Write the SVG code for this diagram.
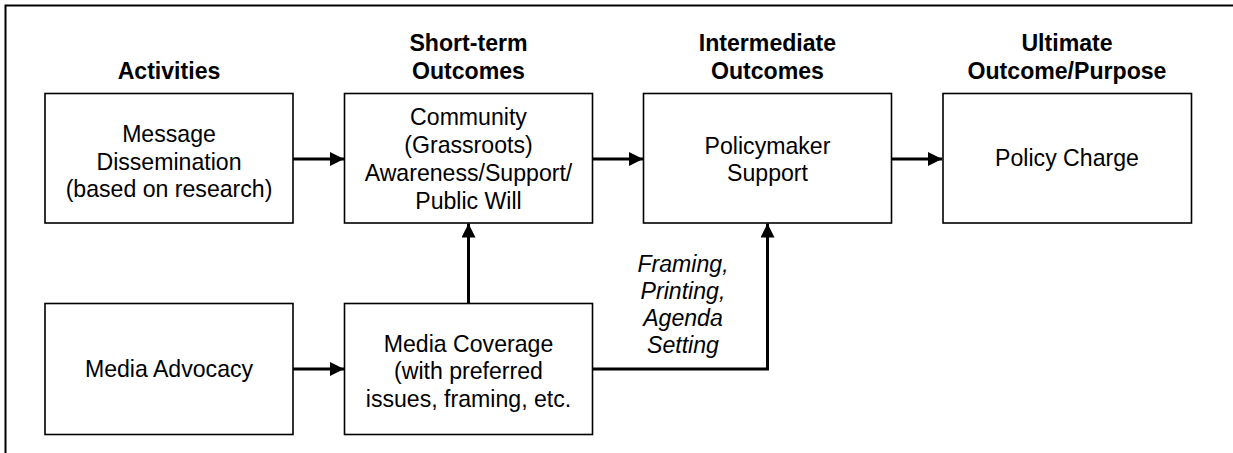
<svg xmlns="http://www.w3.org/2000/svg" width="1233" height="453" viewBox="0 0 1233 453">
  <style>
    text { font-family: "Liberation Sans", Arial, sans-serif; font-size: 24px; fill: #000; text-anchor: middle;
           transform-box: fill-box; transform-origin: center; transform: scaleX(0.963); }
    .hdr { font-weight: bold; }
    .lbl { font-style: italic; }
    .box { fill: #fff; stroke: #000; stroke-width: 1.6; }
    .edge { fill: none; stroke: #000; stroke-width: 3; }
  </style>
  <defs>
    <marker id="arrow" markerUnits="userSpaceOnUse" markerWidth="15" markerHeight="14" refX="14" refY="7" orient="auto">
      <path d="M0,0 L14,7 L0,14 Z" fill="#000"/>
    </marker>
  </defs>

  <rect width="1233" height="453" fill="#fff"/>
  <!-- page frame -->
  <path d="M5.5,453 V5.5 H1233" fill="none" stroke="#000" stroke-width="2"/>

  <!-- column headings -->
  <g id="headings">
    <text class="hdr" x="169" y="79">Activities</text>
    <text class="hdr" x="468.5" y="51">Short-term</text>
    <text class="hdr" x="468.5" y="79">Outcomes</text>
    <text class="hdr" x="767.5" y="51">Intermediate</text>
    <text class="hdr" x="767.5" y="79">Outcomes</text>
    <text class="hdr" x="1067" y="51">Ultimate</text>
    <text class="hdr" x="1067" y="79">Outcome/Purpose</text>
  </g>

  <g id="connectors">
    <line class="edge" x1="293" y1="159" x2="344" y2="159" marker-end="url(#arrow)"/>
    <line class="edge" x1="593" y1="159" x2="643" y2="159" marker-end="url(#arrow)"/>
    <line class="edge" x1="892" y1="159" x2="942" y2="159" marker-end="url(#arrow)"/>
    <line class="edge" x1="293" y1="369" x2="344" y2="369" marker-end="url(#arrow)"/>
    <line class="edge" x1="468.5" y1="303" x2="468.5" y2="223.5" marker-end="url(#arrow)"/>
    <path class="edge" d="M593,369 H767.5 V223.5" marker-end="url(#arrow)"/>
    <g id="edge-label">
      <text class="lbl" x="683" y="272">Framing,</text>
      <text class="lbl" x="683" y="299">Printing,</text>
      <text class="lbl" x="683" y="326">Agenda</text>
      <text class="lbl" x="683" y="353">Setting</text>
    </g>
  </g>

  <g id="message-dissemination">
    <rect class="box" x="45" y="93.5" width="248" height="129.5"/>
    <text x="169" y="142">Message</text>
    <text x="169" y="170">Dissemination</text>
    <text x="169" y="197">(based on research)</text>
  </g>

  <g id="community-awareness">
    <rect class="box" x="344.5" y="93.5" width="248" height="129.5"/>
    <text x="468.5" y="125">Community</text>
    <text x="468.5" y="153">(Grassroots)</text>
    <text x="468.5" y="181">Awareness/Support/</text>
    <text x="468.5" y="209">Public Will</text>
  </g>

  <g id="policymaker-support">
    <rect class="box" x="643.5" y="93.5" width="248" height="129.5"/>
    <text x="767.5" y="154">Policymaker</text>
    <text x="767.5" y="181">Support</text>
  </g>

  <g id="policy-charge">
    <rect class="box" x="943" y="93.5" width="248.5" height="129.5"/>
    <text x="1067" y="166.5">Policy Charge</text>
  </g>

  <g id="media-advocacy">
    <rect class="box" x="45" y="303.5" width="248" height="131"/>
    <text x="169" y="377">Media Advocacy</text>
  </g>

  <g id="media-coverage">
    <rect class="box" x="344.5" y="303.5" width="248" height="131"/>
    <text x="468.5" y="352">Media Coverage</text>
    <text x="468.5" y="379">(with preferred</text>
    <text x="468.5" y="407">issues, framing, etc.</text>
  </g>
</svg>
